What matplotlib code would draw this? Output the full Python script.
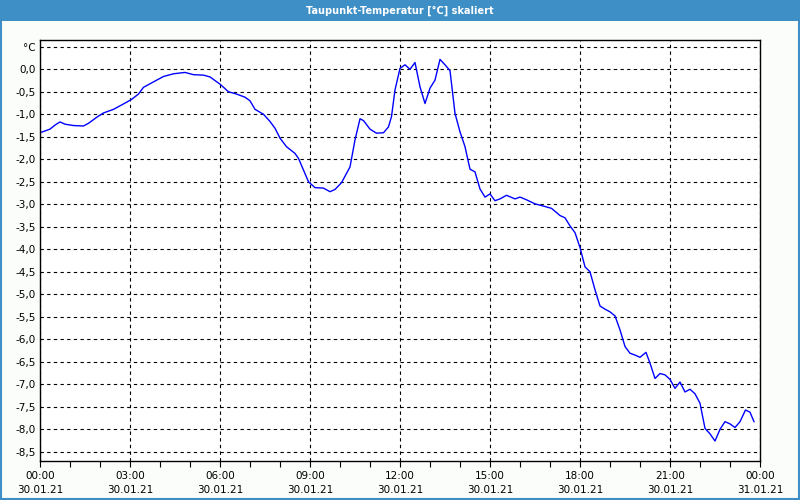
import matplotlib.pyplot as plt
import numpy as np
from matplotlib.patches import Rectangle

# minutes since 30.01.21 00:00 and dew point values
minutes = [0, 20, 30, 40, 50, 67, 87, 97, 113, 127, 147, 167, 183, 197, 207, 227,
           247, 267, 290, 307, 327, 340, 360, 377, 393, 410, 420, 430, 447, 460,
           470, 480, 493, 510, 517, 527, 537, 550, 567, 580, 590, 603, 620, 630,
           640, 647, 660, 673, 687, 697, 703, 710, 720, 730, 740, 750, 760, 770,
           780, 790, 800, 810, 820, 830, 840, 850, 860, 870, 880, 890, 900, 910,
           920, 933, 950, 960, 973, 990, 1007, 1023, 1040, 1050, 1060, 1070, 1080,
           1090, 1100, 1110, 1120, 1130, 1140, 1150, 1160, 1170, 1180, 1190, 1200,
           1212, 1220, 1230, 1240, 1250, 1260, 1270, 1280, 1290, 1300, 1310, 1320,
           1330, 1340, 1350, 1360, 1370, 1380, 1390, 1400, 1411, 1420, 1428]
taupunkt = [-1.41, -1.33, -1.24, -1.17, -1.22, -1.25, -1.26, -1.20, -1.07, -0.97,
            -0.89, -0.77, -0.67, -0.55, -0.40, -0.28, -0.16, -0.10, -0.07, -0.12,
            -0.13, -0.17, -0.33, -0.50, -0.55, -0.62, -0.70, -0.89, -1.00, -1.16,
            -1.31, -1.53, -1.72, -1.87, -1.98, -2.24, -2.50, -2.63, -2.64, -2.72,
            -2.67, -2.52, -2.17, -1.57, -1.10, -1.14, -1.33, -1.42, -1.41, -1.28,
            -1.05, -0.46, 0.02, 0.10, 0.00, 0.15, -0.39, -0.76, -0.42, -0.24,
            0.22, 0.10, -0.03, -0.98, -1.39, -1.72, -2.22, -2.28, -2.66, -2.84,
            -2.77, -2.92, -2.88, -2.80, -2.88, -2.84, -2.90, -2.99, -3.04, -3.09,
            -3.25, -3.30, -3.48, -3.63, -3.96, -4.39, -4.50, -4.90, -5.26, -5.33,
            -5.39, -5.48, -5.79, -6.16, -6.31, -6.35, -6.40, -6.29, -6.53, -6.87,
            -6.76, -6.79, -6.89, -7.09, -6.95, -7.17, -7.11, -7.21, -7.42, -7.98,
            -8.10, -8.26, -8.00, -7.83, -7.88, -7.96, -7.83, -7.57, -7.62, -7.83]

ytick_vals = np.arange(-8.5, 0.51, 0.5)
xtick_labels = ['00:00\n30.01.21', '03:00\n30.01.21', '06:00\n30.01.21',
                '09:00\n30.01.21', '12:00\n30.01.21', '15:00\n30.01.21',
                '18:00\n30.01.21', '21:00\n30.01.21', '00:00\n31.01.21']

hours = np.array(minutes) / 60.0

fig = plt.figure(figsize=(8, 5), dpi=100, facecolor='#fbfdfb')
ax = fig.add_axes([0.05, 0.078, 0.90, 0.8414])
ax.set_facecolor('white')

# title bar and frame
fig.patches.append(Rectangle((0, 0.959), 1, 0.041, transform=fig.transFigure,
                             facecolor='#3d8fc6', edgecolor='none', zorder=0))
fig.patches.append(Rectangle((0.001, 0.002), 0.998, 0.997, transform=fig.transFigure,
                             facecolor='none', edgecolor='#3d8fc6', lw=1.5, zorder=0))
fig.text(0.5, 0.979, 'Taupunkt-Temperatur [°C] skaliert', color='white',
         ha='center', va='center', fontsize=7, fontweight='bold')

ax.plot(hours, taupunkt, color='#0000ff', lw=1)

ax.set_xlim(0, 24)
ax.set_ylim(-8.704, 0.644)

ax.set_xticks(np.arange(0, 25, 3))
ax.set_xticklabels(xtick_labels, fontsize=7.5, linespacing=1.55)
ax.set_xticks(np.arange(0, 25, 1), minor=True)
ax.tick_params(axis='x', which='both', length=4, width=0.8, direction='out', pad=3)

ax.set_yticks(ytick_vals)
ylabels = [('%.1f' % v).replace('.', ',') for v in ytick_vals]
ylabels[-1] = '°C'
ax.set_yticklabels(ylabels, fontsize=7.5)
ax.tick_params(axis='y', length=0, pad=3)

ax.grid(True, which='major', color='black', lw=0.8, linestyle=(0, (3, 3)))

for s in ax.spines.values():
    s.set_color('black')
    s.set_linewidth(1)

fig.savefig('out.png', dpi=100, facecolor=fig.get_facecolor())
